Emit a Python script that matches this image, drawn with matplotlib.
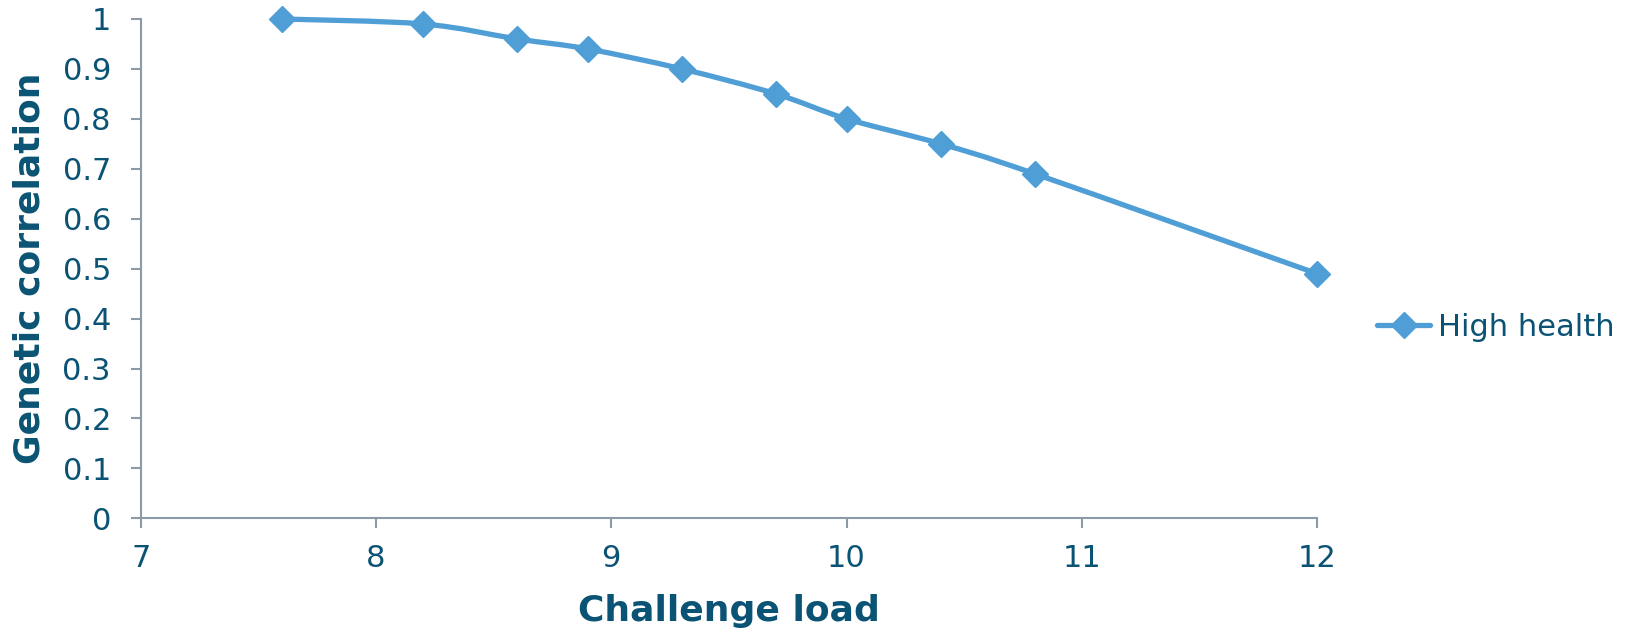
import matplotlib
matplotlib.use("Agg")
import matplotlib.pyplot as plt
from matplotlib.path import Path
from matplotlib.patches import PathPatch
from matplotlib.lines import Line2D

challenge_load = [7.6, 8.2, 8.6, 8.9, 9.3, 9.7, 10.0, 10.4, 10.8, 12.0]
genetic_corr = [1.0, 0.99, 0.96, 0.94, 0.90, 0.85, 0.80, 0.75, 0.69, 0.49]
series_name = "High health"
x_ticks = [7, 8, 9, 10, 11, 12]
y_ticks = [0, 0.1, 0.2, 0.3, 0.4, 0.5, 0.6, 0.7, 0.8, 0.9, 1]
y_tick_labels = ["0", "0.1", "0.2", "0.3", "0.4", "0.5", "0.6", "0.7", "0.8", "0.9", "1"]

text_color = "#0B5374"
line_color = "#4F9ED6"
axis_color = "#8C99A6"

plt.rcParams['font.family'] = ['DejaVu Sans']
fig = plt.figure(figsize=(16.33, 6.33), dpi=100)
ax = fig.add_axes([0.0862, 0.1812, 0.7203, 0.7888])

# smoothed line (Catmull-Rom style Bezier segments through the data points)
pts = list(zip(challenge_load, genetic_corr))
n = len(pts)
verts = [pts[0]]
codes = [Path.MOVETO]
for i in range(n - 1):
    p0 = pts[i - 1] if i > 0 else pts[i]
    p1 = pts[i]
    p2 = pts[i + 1]
    p3 = pts[i + 2] if i + 2 < n else pts[i + 1]
    c1 = (p1[0] + (p2[0] - p0[0]) / 6.0, p1[1] + (p2[1] - p0[1]) / 6.0)
    c2 = (p2[0] - (p3[0] - p1[0]) / 6.0, p2[1] - (p3[1] - p1[1]) / 6.0)
    verts += [c1, c2, p2]
    codes += [Path.CURVE4] * 3
curve = PathPatch(Path(verts, codes), facecolor='none', edgecolor=line_color,
                  lw=3.8, capstyle='round', joinstyle='round', zorder=3, clip_on=False)
ax.add_patch(curve)

ax.plot(challenge_load, genetic_corr, linestyle='none', marker='D',
        markersize=13, markerfacecolor=line_color, markeredgecolor=line_color,
        clip_on=False, zorder=4)

ax.set_xlim(7, 12)
ax.set_ylim(0, 1)
ax.set_xticks(x_ticks)
ax.set_xticklabels([str(t) for t in x_ticks])
ax.set_yticks(y_ticks)
ax.set_yticklabels(y_tick_labels)

for s in ['top', 'right']:
    ax.spines[s].set_visible(False)
for s in ['left', 'bottom']:
    ax.spines[s].set_color(axis_color)
    ax.spines[s].set_linewidth(1.5)
ax.tick_params(axis='both', colors=axis_color, labelcolor=text_color,
               labelsize=22, length=7.5, width=1.5, direction='out')
ax.tick_params(axis='x', pad=11)
ax.tick_params(axis='y', pad=14)

ax.set_xlabel("Challenge load", fontsize=26, fontweight='bold', color=text_color)
ax.set_ylabel("Genetic correlation", fontsize=26, fontweight='bold', color=text_color)
ax.xaxis.set_label_coords(0.5, -0.152)
ax.yaxis.set_label_coords(-0.080, 0.5)

handle = Line2D([], [], color=line_color, lw=3.8, marker='D', markersize=13,
                markerfacecolor=line_color, markeredgecolor=line_color,
                solid_capstyle='round')
leg = ax.legend([handle], [series_name], loc='center left', bbox_to_anchor=(1.051, 0.383),
                frameon=False, fontsize=22, handlelength=1.75, handletextpad=0.25,
                borderaxespad=0, borderpad=0)
for t in leg.get_texts():
    t.set_color(text_color)

fig.savefig("out.png", dpi=100)
